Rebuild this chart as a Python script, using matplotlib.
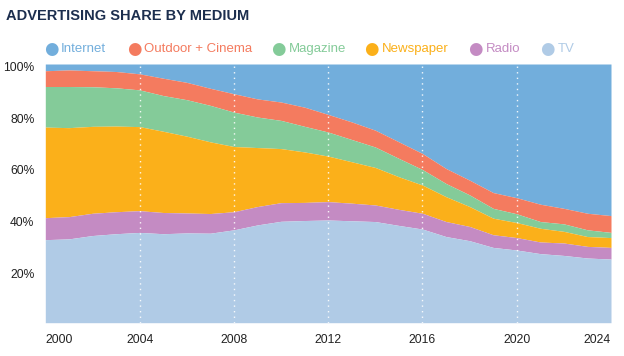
import matplotlib
matplotlib.use("Agg")
import matplotlib.pyplot as plt
import matplotlib.transforms as mtrans
import numpy as np

years = list(range(2000, 2025))
series_names = ["Internet", "Outdoor + Cinema", "Magazine", "Newspaper", "Radio", "TV"]
colors = ["#72AEDC", "#F47B5F", "#84CB99", "#FBB01A", "#C48BC3", "#B0CBE6"]

# cumulative tops (%)
tv_top = [32.1, 32.4, 33.7, 34.4, 34.9, 34.4, 34.7, 34.6, 35.9, 37.8, 39.2, 39.5,
          39.7, 39.4, 39.1, 37.6, 36.2, 33.3, 31.7, 29.1, 28.1, 26.7, 26.0, 25.0, 24.6]
radio_top = [40.6, 41.0, 42.3, 42.9, 43.3, 42.6, 42.4, 42.2, 42.9, 44.9, 46.4, 46.5,
             46.8, 46.2, 45.5, 43.8, 42.3, 39.1, 37.2, 34.0, 32.9, 31.2, 30.8, 29.5, 29.1]
newspaper_top = [75.6, 75.4, 75.9, 76.0, 75.8, 74.0, 72.1, 69.9, 68.1, 67.7, 67.3, 66.0,
                 64.4, 62.2, 60.0, 56.4, 53.2, 48.7, 44.9, 40.4, 38.7, 36.5, 35.3, 33.3, 32.9]
magazine_top = [91.3, 91.3, 91.2, 90.8, 90.0, 87.8, 86.2, 84.0, 81.4, 79.5, 78.2, 75.9,
                73.7, 70.8, 67.9, 63.5, 59.2, 53.8, 49.4, 44.2, 42.1, 39.1, 38.2, 35.9, 34.9]
outdoor_top = [97.4, 97.7, 97.4, 97.1, 96.2, 94.5, 92.9, 90.6, 88.5, 86.5, 85.3, 83.3,
               80.5, 77.6, 74.4, 69.9, 65.4, 59.6, 55.1, 50.3, 48.3, 45.8, 44.2, 42.3, 41.4]

x_ticks = [2000, 2004, 2008, 2012, 2016, 2020, 2024]
y_ticks = [20, 40, 60, 80, 100]

plt.rcParams['font.family'] = ['Liberation Sans', 'DejaVu Sans']

fig = plt.figure(figsize=(6.24, 3.56), dpi=100)
ax = fig.add_axes([45.3/624, 1 - 322.7/356, (611 - 45.3)/624, (322.7 - 64)/356])

x = np.array(years, dtype=float)
tops = [np.full(len(years), 100.0), np.array(outdoor_top), np.array(magazine_top),
        np.array(newspaper_top), np.array(radio_top), np.array(tv_top)]
bottoms = tops[1:] + [np.zeros(len(years))]
for t, b, c in zip(tops, bottoms, colors):
    ax.fill_between(x, b, t, color=c, linewidth=0)

for xt in x_ticks[1:-1]:
    ax.axvline(xt, color="white", linestyle=(0, (1, 3)), linewidth=1.0, alpha=0.9)

ax.set_xlim(2000, 2024)
ax.set_ylim(0, 100)
for s in ax.spines.values():
    s.set_visible(False)
ax.set_xticks(x_ticks)
ax.set_xticklabels([str(v) for v in x_ticks], fontsize=8.7, color="#222222")
ax.set_yticks(y_ticks)
ax.set_yticklabels([f"{v}%" for v in y_ticks], fontsize=8.7, color="#222222")
ax.tick_params(axis="both", length=0)
ax.tick_params(axis="x", pad=8)
ax.tick_params(axis="y", pad=7.9)
xl = ax.get_xticklabels()
xl[0].set_horizontalalignment("left")
xl[-1].set_horizontalalignment("right")
offset = mtrans.ScaledTranslation(0, -2.5/100, fig.dpi_scale_trans)
for lbl in ax.get_yticklabels():
    lbl.set_transform(lbl.get_transform() + offset)

fig.text(6/624, 1 - 16.5/356, "ADVERTISING SHARE BY MEDIUM", fontsize=10.5, fontweight="bold",
         color="#1C2E4E", va="center", ha="left")

# legend
leg_pos = [(51, 61), (134, 144), (278, 289), (371, 382), (475, 486), (547, 558)]
for (cx, tx), name, c in zip(leg_pos, series_names, colors):
    fig.text(cx/624, 1 - 49.3/356, "\u25CF", fontsize=12, color=c, va="center", ha="center",
             family="DejaVu Sans")
    fig.text(tx/624, 1 - 49.3/356, name, fontsize=9.5, color=c, va="center", ha="left")

fig.savefig("out.png", dpi=100)
